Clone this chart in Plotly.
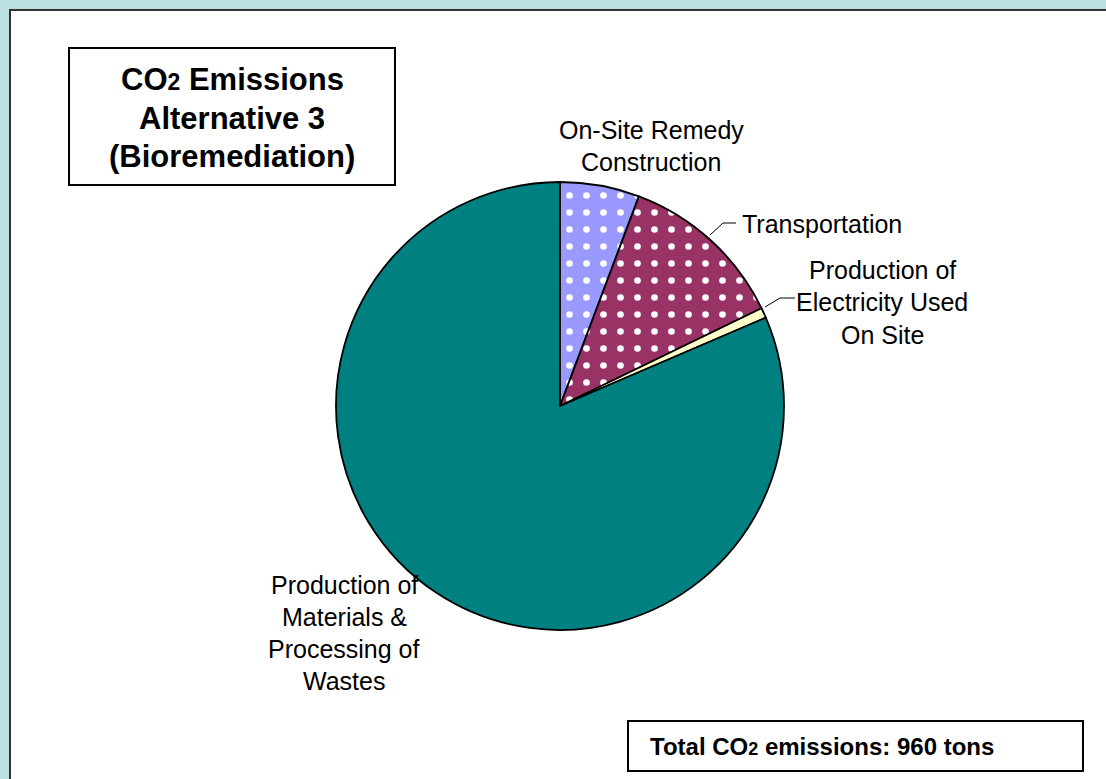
import plotly.graph_objects as go

# ---- data ----
categories = [
    "On-Site Remedy Construction",
    "Transportation",
    "Production of Electricity Used On Site",
    "Production of Materials & Processing of Wastes",
]
values_tons = [55, 116, 7, 782]
slice_colors = ["#9999FF", "#993366", "#FFFFCC", "#008080"]
slice_patterns = [".", ".", "", ""]
title_lines = ["CO<span style='font-size:23px'>2</span> Emissions", "Alternative 3", "(Bioremediation)"]
total_text = "Total CO<span style='font-size:18px'>2</span> emissions: 960 tons"

W, H = 1106, 779
FONT = "Arial, 'Liberation Sans', sans-serif"


def px(x):
    return x / W


def py(y):
    return 1 - y / H


# pie placement in pixels (top-left origin)
cx, cy, r = 560, 406, 224

fig = go.Figure()
fig.add_trace(go.Pie(
    labels=categories,
    values=values_tons,
    sort=False,
    direction="clockwise",
    rotation=0,
    textinfo="none",
    hoverinfo="label+value+percent",
    showlegend=False,
    marker=dict(
        colors=slice_colors,
        line=dict(color="black", width=1.8),
        pattern=dict(shape=slice_patterns, fgcolor="white", bgcolor=slice_colors,
                     fillmode="replace", size=17, solidity=0.12),
    ),
    domain=dict(x=[px(cx - r), px(cx + r)], y=[py(cy + r), py(cy - r)]),
))

shapes = [
    # white chart area with dark frame (left/top visible)
    dict(type="rect", xref="paper", yref="paper", x0=px(10), y0=-0.05, x1=1.05, y1=py(10),
         fillcolor="white", line=dict(color="#333333", width=2), layer="below"),
    # title box
    dict(type="rect", xref="paper", yref="paper", x0=px(69), y0=py(185), x1=px(395), y1=py(48),
         fillcolor="white", line=dict(color="black", width=2)),
    # total box
    dict(type="rect", xref="paper", yref="paper", x0=px(628), y0=py(771), x1=px(1083), y1=py(721),
         fillcolor="white", line=dict(color="black", width=2)),
    # leader line Transportation
    dict(type="path", xref="paper", yref="paper",
         path=f"M {px(710)},{py(235)} L {px(723)},{py(223)} L {px(736)},{py(223)}",
         line=dict(color="black", width=1)),
    # leader line Electricity
    dict(type="path", xref="paper", yref="paper",
         path=f"M {px(765)},{py(307)} L {px(780)},{py(298)} L {px(795)},{py(298)}",
         line=dict(color="black", width=1)),
]

annotations = []


def add_lines(lines, x, ys, size, bold=False, xanchor="center"):
    for t, y in zip(lines, ys):
        annotations.append(dict(
            x=px(x), y=py(y), xref="paper", yref="paper", text=f"<b>{t}</b>" if bold else t,
            showarrow=False, xanchor=xanchor, yanchor="middle",
            font=dict(family=FONT, size=size, color="black"),
        ))


add_lines(title_lines, 232, [80, 119, 156], 31, bold=True)
add_lines(["On-Site Remedy", "Construction"], 651, [130, 162], 25)
add_lines(["Transportation"], 740, [224], 25, xanchor="left")
add_lines(["Production of", "Electricity Used", "On Site"], 882, [270, 302, 335], 25)
add_lines(["Production of", "Materials &", "Processing of", "Wastes"], 344, [585, 617, 649, 681], 25)
add_lines([total_text], 648, [746], 24, bold=True, xanchor="left")

fig.update_layout(
    width=W, height=H,
    margin=dict(l=0, r=0, t=0, b=0),
    paper_bgcolor="#BAE0E2",
    plot_bgcolor="white",
    shapes=shapes,
    annotations=annotations,
)

fig.write_html(
    "out.html",
    config={"displayModeBar": False},
    post_script="document.body.style.margin='0';document.body.style.overflow='hidden';",
)
